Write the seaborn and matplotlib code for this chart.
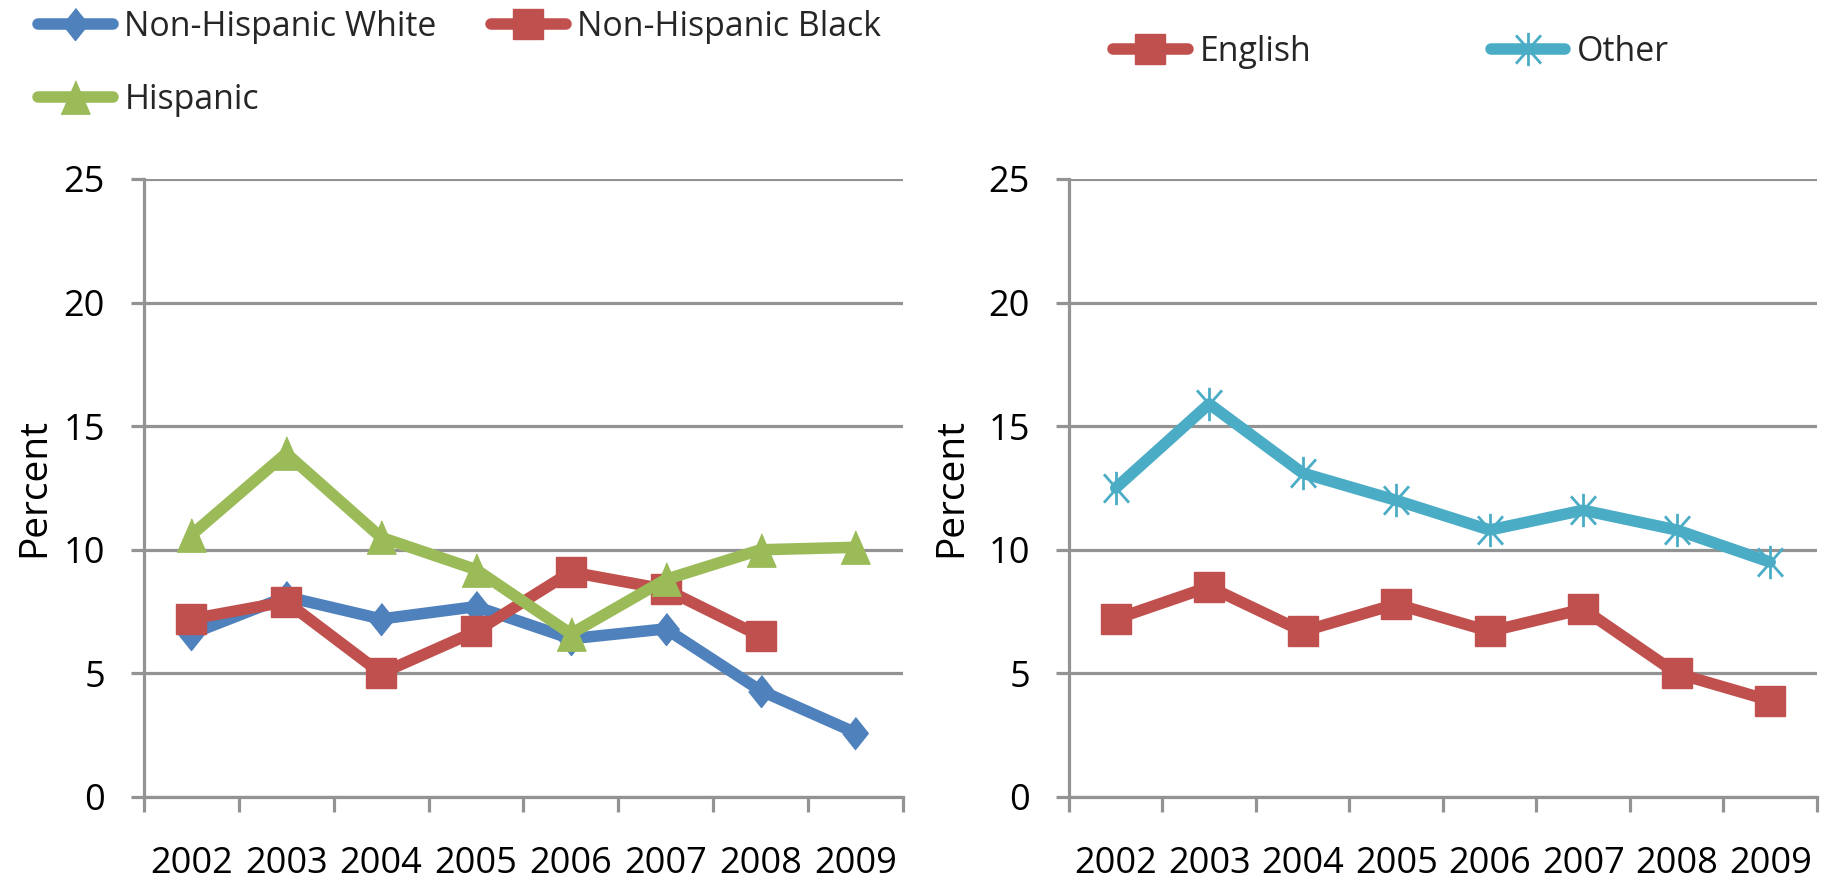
import numpy as np
import pandas as pd
import matplotlib
matplotlib.use("Agg")
import matplotlib.pyplot as plt
import seaborn as sns
from matplotlib.path import Path

# ---- data -------------------------------------------------------------
years = [2002, 2003, 2004, 2005, 2006, 2007, 2008, 2009]

race_labels = ["Non-Hispanic White", "Non-Hispanic Black", "Hispanic"]
nh_white = [6.6, 8.1, 7.2, 7.7, 6.4, 6.8, 4.3, 2.6]
nh_black = [7.2, 7.9, 5.0, 6.7, 9.1, 8.4, 6.5, np.nan]
hispanic = [10.6, 13.9, 10.5, 9.2, 6.6, 8.8, 10.0, 10.1]

lang_labels = ["English", "Other"]
english = [7.2, 8.5, 6.7, 7.8, 6.7, 7.6, 5.0, 3.9]
other = [12.5, 15.9, 13.1, 12.0, 10.8, 11.6, 10.8, 9.5]

y_ticks = [0, 5, 10, 15, 20, 25]

# ---- style ------------------------------------------------------------
sns.set_style("white")
plt.rcParams["font.family"] = ["Open Sans", "DejaVu Sans"]
plt.rcParams["font.size"] = 26

BLUE = "#4F81BD"
RED = "#C0504D"
GREEN = "#9BBB59"
CYAN = "#4BACC6"
GRAY = "#939393"
AXIS_LW = 2.3
LINE_LW = 8.3

# marker shapes
diamond = [(0, 1), (0.8, 0), (0, -1), (-0.8, 0)]
triangle = [(0, 1), (0.87, -1), (-0.87, -1)]
star = Path(
    [(0, -1), (0, 1), (-0.75, -0.85), (0.75, 0.85), (-0.75, 0.85), (0.75, -0.85)],
    [Path.MOVETO, Path.LINETO, Path.MOVETO, Path.LINETO, Path.MOVETO, Path.LINETO],
)

race_df = pd.DataFrame({
    "year": years * 3,
    "percent": nh_white + nh_black + hispanic,
    "group": np.repeat(race_labels, len(years)),
})
lang_df = pd.DataFrame({
    "year": years * 2,
    "percent": english + other,
    "group": np.repeat(lang_labels, len(years)),
})

race_style = {
    "Non-Hispanic White": dict(color=BLUE, marker=diamond, markersize=23, mec=BLUE, mfc=BLUE, mew=1.0),
    "Non-Hispanic Black": dict(color=RED, marker="s", markersize=21, mec=RED, mfc=RED, mew=1.0),
    "Hispanic": dict(color=GREEN, marker=triangle, markersize=24, mec=GREEN, mfc=GREEN, mew=1.0),
}
lang_style = {
    "English": dict(color=RED, marker="s", markersize=21, mec=RED, mfc=RED, mew=1.0),
    "Other": dict(color=CYAN, marker=star, markersize=24, mec=CYAN, mfc="none", mew=2.0),
}

fig = plt.figure(figsize=(18.27, 8.86), dpi=100)
ax1 = fig.add_axes([0.0788, 0.1005, 0.4154, 0.6975])
ax2 = fig.add_axes([0.5851, 0.1005, 0.4094, 0.6975])


def draw_panel(ax, df, labels, styles):
    for name in labels:
        sub = df[df["group"] == name].dropna()
        sns.lineplot(data=sub, x="year", y="percent", ax=ax, legend=False,
                     linewidth=LINE_LW, solid_capstyle="round",
                     solid_joinstyle="round", clip_on=False, **styles[name])


def style_axes(ax, label_x):
    ax.set_xlim(years[0] - 0.5, years[-1] + 0.5)
    ax.set_ylim(y_ticks[0], y_ticks[-1])
    ax.set_xticks(years)
    ax.set_xticklabels([str(y) for y in years])
    ax.set_xticks(np.arange(years[0] - 0.5, years[-1] + 1.0, 1.0), minor=True)
    ax.set_yticks(y_ticks)
    ax.tick_params(axis="x", which="major", length=0, pad=35, labelcolor="black")
    ax.tick_params(axis="x", which="minor", length=11, width=AXIS_LW,
                   color=GRAY, direction="out", bottom=True)
    ax.tick_params(axis="y", which="major", length=9.4, width=AXIS_LW,
                   color=GRAY, direction="out", pad=18.7, labelcolor="black", left=True)
    ax.yaxis.grid(True, color=GRAY, linewidth=AXIS_LW)
    ax.xaxis.grid(False)
    ax.set_axisbelow(True)
    for side in ("top", "right"):
        ax.spines[side].set_visible(False)
    for side in ("left", "bottom"):
        ax.spines[side].set_color(GRAY)
        ax.spines[side].set_linewidth(AXIS_LW)
    ax.set_xlabel("")
    ax.set_ylabel("Percent", fontfamily="Open Sans", fontsize=28, color="black")
    ax.yaxis.set_label_coords(label_x, 0.5)


draw_panel(ax1, race_df, race_labels, race_style)
draw_panel(ax2, lang_df, lang_labels, lang_style)
style_axes(ax1, -0.119)
style_axes(ax2, -0.132)

legend_kw = dict(frameon=False, ncol=2, handlelength=2.2, handletextpad=0.35,
                 borderpad=0, borderaxespad=0, loc="upper left",
                 prop={"family": "Open Sans", "size": 24.4},
                 bbox_transform=fig.transFigure)

# legend columns fill top-to-bottom, so White/Hispanic share the first column
race_lines = dict(zip(race_labels, ax1.get_lines()))
race_order = ["Non-Hispanic White", "Hispanic", "Non-Hispanic Black"]
fig.legend([race_lines[k] for k in race_order], race_order,
           columnspacing=1.6, labelspacing=1.15,
           bbox_to_anchor=(38 / 1827, 1 - 10 / 886), **legend_kw)
fig.legend(ax2.get_lines(), lang_labels, columnspacing=5.3,
           bbox_to_anchor=(1113 / 1827, 1 - 35 / 886), **legend_kw)

fig.savefig("out.png", dpi=100)
